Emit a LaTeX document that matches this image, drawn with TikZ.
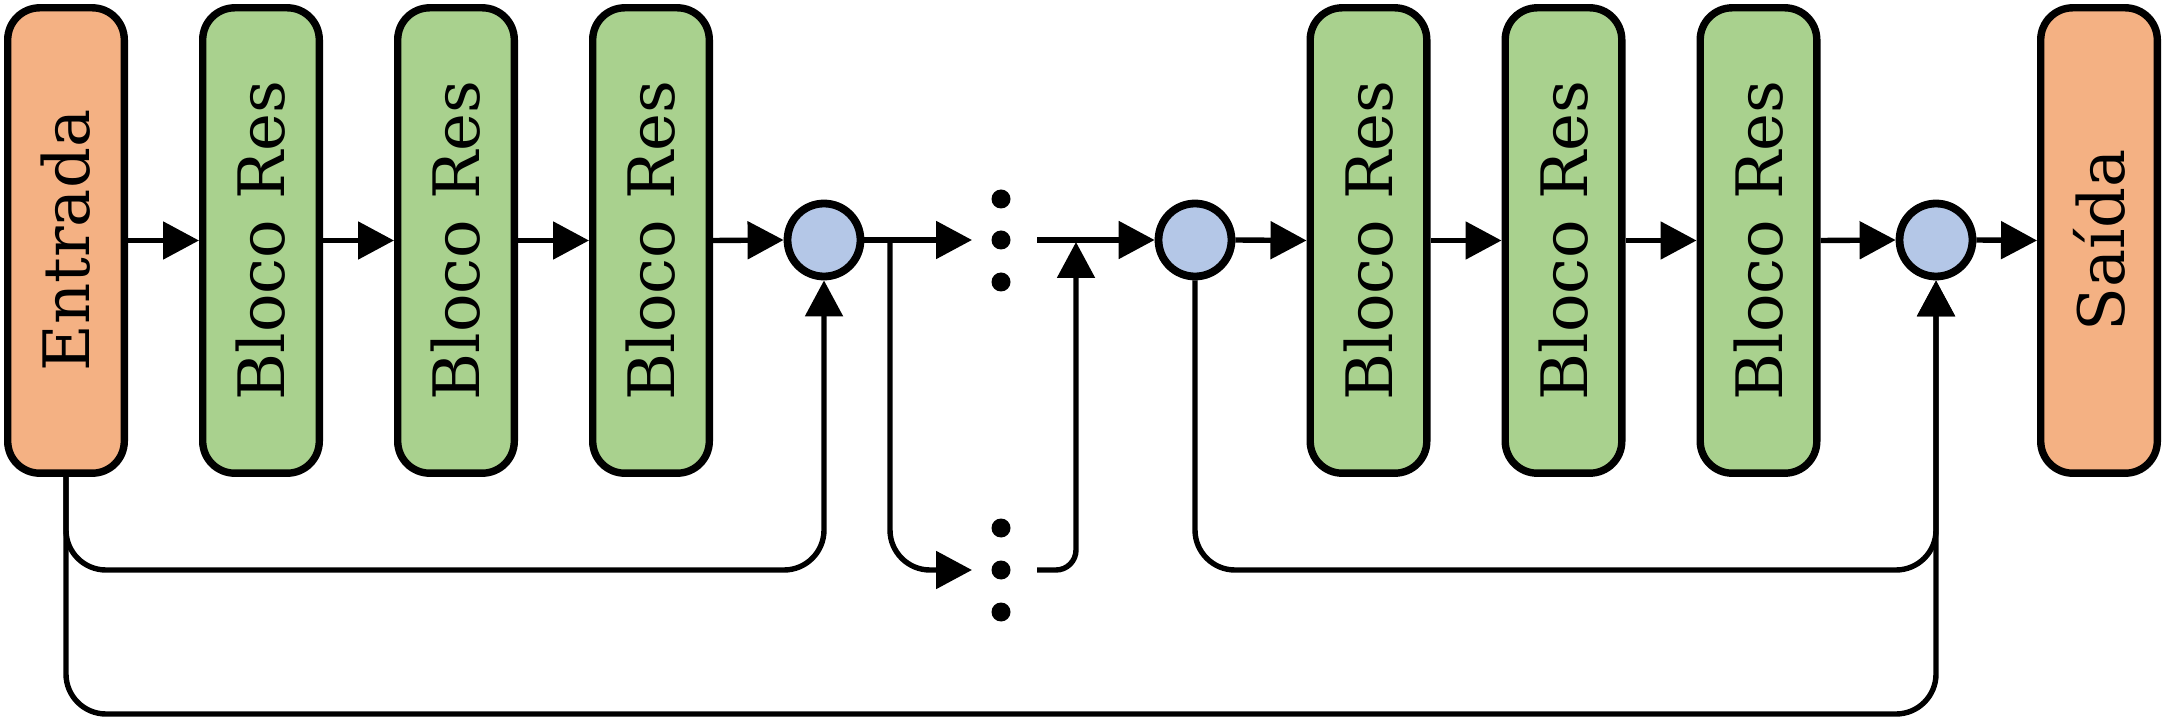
\documentclass[tikz,border=0pt]{standalone}
\usepackage{fontspec}
\usepackage{graphicx}
\setmainfont{DejaVu Serif}
\usetikzlibrary{arrows.meta}
\definecolor{inorange}{HTML}{F4B183}
\definecolor{resgreen}{HTML}{A9D18E}
\definecolor{sumblue}{HTML}{B4C7E7}
\begin{document}
\begin{tikzpicture}[x=0.5pt,y=-0.5pt,
  blockbox/.style={draw, line width=3.7pt, rounded corners=16pt, minimum width=58.3pt, minimum height=232.7pt, inner sep=0pt, font=\fontsize{32}{38}\selectfont},
  iobox/.style={blockbox, fill=inorange},
  resbox/.style={blockbox, fill=resgreen},
  sumnode/.style={circle, draw, line width=3.9pt, fill=sumblue, minimum size=36.5pt, inner sep=0pt},
  dotnode/.style={circle, fill=black, minimum size=9.5pt, inner sep=0pt},
  conn/.style={line width=2.7pt},
  arr/.style={conn, -{Triangle[length=18pt,width=18.5pt]}},
  skipbend/.style={rounded corners=20pt}]
\useasboundingbox (0,0) rectangle (2179,721);
% boxes
\node[iobox] (E) at (66,240.5) {\rotatebox{90}{Entrada}};
\node[resbox] (B1) at (261,240.5) {\rotatebox{90}{Bloco Res}};
\node[resbox] (B2) at (456,240.5) {\rotatebox{90}{Bloco Res}};
\node[resbox] (B3) at (651,240.5) {\rotatebox{90}{Bloco Res}};
\node[sumnode] (C1) at (824,240) {};
\node[sumnode] (C2) at (1195,240) {};
\node[resbox] (B4) at (1368.5,240.5) {\rotatebox{90}{Bloco Res}};
\node[resbox] (B5) at (1563.5,240.5) {\rotatebox{90}{Bloco Res}};
\node[resbox] (B6) at (1758.5,240.5) {\rotatebox{90}{Bloco Res}};
\node[sumnode] (C3) at (1936,240) {};
\node[iobox] (S) at (2099,240.5) {\rotatebox{90}{Saída}};
% dots
\node[dotnode] (u1) at (1001,199) {};
\node[dotnode] (u2) at (1001,240) {};
\node[dotnode] (u3) at (1001,282) {};
\node[dotnode] (l1) at (1001,528) {};
\node[dotnode] (l2) at (1001,570) {};
\node[dotnode] (l3) at (1001,612) {};
% helper coordinates
\coordinate (low) at (0,570);
\coordinate (bot) at (0,714);
\coordinate (din) at (972,240);
\coordinate (dout) at (1037,240);
\coordinate (ldin) at (972,570);
\coordinate (ldout) at (1037,570);
\coordinate (br) at (890,240);
\coordinate (up) at (1076,242);
% main chain
\draw[arr] (E.east) -- (B1.west);
\draw[arr] (B1.east) -- (B2.west);
\draw[arr] (B2.east) -- (B3.west);
\draw[arr] (B3.east) -- (C1.west);
\draw[arr] (C1.east) -- (din);
\draw[arr] (dout) -- (C2.west);
\draw[arr] (C2.east) -- (B4.west);
\draw[arr] (B4.east) -- (B5.west);
\draw[arr] (B5.east) -- (B6.west);
\draw[arr] (B6.east) -- (C3.west);
\draw[arr] (C3.east) -- (S.west);
% skip connections
\draw[arr, skipbend] (E.south) -- (E.south |- low) -- (C1.south |- low) -- (C1.south);
\draw[arr, skipbend] (br) -- (br |- low) -- (ldin);
\draw[arr, rounded corners=10pt] (ldout) -- (up |- low) -- (up);
\draw[arr, skipbend] (C2.south) -- (C2.south |- low) -- (C3.south |- low) -- (C3.south);
\draw[arr, skipbend] (E.south) -- (E.south |- bot) -- (C3.south |- bot) -- (C3.south);
\end{tikzpicture}
\end{document}
